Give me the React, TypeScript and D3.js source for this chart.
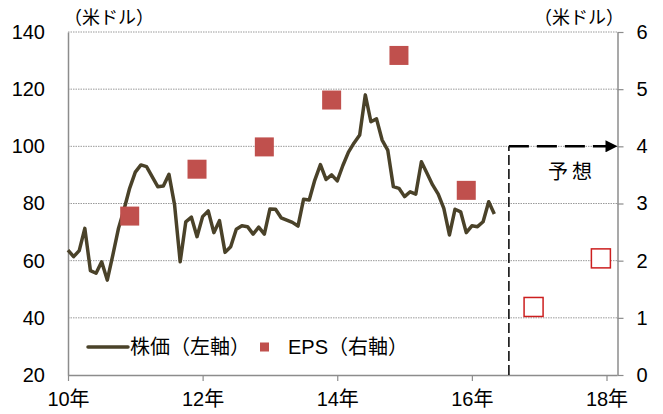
import * as d3 from "d3";
import { useRef, useEffect } from "react";

// monthly closing prices, Jan 2010 - May 2016 (left axis, USD)
const priceStart = 2010;
const prices = [
  63.7, 61.4, 63.5, 71.3, 56.5, 55.6, 59.6, 53.2, 62.0, 71.3, 78.0, 85.4,
  91.0, 93.5, 92.9, 89.4, 85.9, 86.1, 90.2, 79.5, 59.6, 73.6, 75.2, 68.4,
  75.4, 77.4, 69.8, 74.0, 62.9, 64.9, 71.0, 72.2, 71.9, 69.3, 71.7, 69.3,
  78.1, 78.0, 75.0, 74.2, 73.4, 72.1, 81.5, 81.2, 88.2, 93.6, 88.4, 90.0,
  87.9, 93.3, 98.0, 101.2, 104.0, 118.0, 108.6, 109.6, 102.2, 98.7, 85.9, 85.3,
  82.4, 84.1, 83.3, 94.6, 90.6, 86.5, 83.3, 78.3, 69.0, 78.0, 77.1, 69.8,
  72.2, 71.9, 73.6, 80.6, 76.3,
];

// annual EPS (right axis, USD); 2016-2017 are forecasts
const epsYears = [2010, 2011, 2012, 2013, 2014, 2015, 2016, 2017];
const epsValues = [2.78, 3.6, 3.99, 4.81, 5.59, 3.23, 1.19, 2.04];
const forecastFrom = 2016;

const xTicks = [2010, 2012, 2014, 2016, 2018];
const xTickLabels = ["10年", "12年", "14年", "16年", "18年"];
const leftTicks = [20, 40, 60, 80, 100, 120, 140];
const rightTicks = [0, 1, 2, 3, 4, 5, 6];

const forecastStart = 2016.55;
const forecastLevel = 4;

const FONT = "'Liberation Sans', Arial, 'Noto Sans CJK JP', sans-serif";

export default function App() {
  const ref = useRef<SVGSVGElement>(null);

  useEffect(() => {
    const svg = d3.select(ref.current);
    svg.selectAll("*").remove();

    const left = 68, right = 617.5, top = 32, bottom = 375;
    const x = d3.scaleLinear().domain([2010, 2018]).range([left, 606.5]);
    const yL = d3.scaleLinear().domain([20, 140]).range([bottom, top]);
    const yR = d3.scaleLinear().domain([0, 6]).range([bottom, top]);

    const defs = svg.append("defs");
    defs.append("marker")
      .attr("id", "arrow")
      .attr("viewBox", "0 0 10 10")
      .attr("refX", 10)
      .attr("refY", 5)
      .attr("markerWidth", 16)
      .attr("markerHeight", 12)
      .attr("markerUnits", "userSpaceOnUse")
      .attr("orient", "auto")
      .append("path")
      .attr("d", "M0,0 L10,5 L0,10 Z")
      .attr("fill", "#000");

    // gridlines
    svg.append("g")
      .selectAll("line")
      .data(leftTicks.filter(t => t > 20))
      .join("line")
      .attr("x1", left)
      .attr("x2", right)
      .attr("y1", d => yL(d))
      .attr("y2", d => yL(d))
      .attr("stroke", "#9a9a9a")
      .attr("stroke-width", 1)
      .attr("stroke-dasharray", "1.5 1");

    // left axis
    const gL = svg.append("g").attr("transform", `translate(${left},0)`)
      .call(d3.axisLeft(yL).tickValues(leftTicks).tickSize(0).tickPadding(23));
    gL.select(".domain").attr("stroke", "#8c8c8c").attr("stroke-width", 1.5);
    gL.selectAll("text").attr("font-family", FONT).attr("font-size", 20).attr("fill", "#000");

    // right axis
    const gR = svg.append("g").attr("transform", `translate(${right},0)`)
      .call(d3.axisRight(yR).tickValues(rightTicks).tickSize(6).tickSizeOuter(0).tickPadding(13)
        .tickFormat(d3.format("d")));
    gR.select(".domain").attr("stroke", "#8c8c8c").attr("stroke-width", 1.5);
    gR.selectAll(".tick line").attr("stroke", "#8c8c8c").attr("stroke-width", 1.2);
    gR.selectAll("text").attr("font-family", FONT).attr("font-size", 20).attr("fill", "#000");

    // bottom axis
    const gB = svg.append("g").attr("transform", `translate(0,${bottom})`)
      .call(d3.axisBottom(x).tickValues(xTicks).tickSize(6).tickSizeOuter(0).tickPadding(11)
        .tickFormat((d, i) => xTickLabels[i]));
    gB.select(".domain").attr("d", `M${left},0.5H${right}`).attr("stroke", "#8c8c8c").attr("stroke-width", 1.5);
    gB.selectAll(".tick line").attr("stroke", "#8c8c8c").attr("stroke-width", 1.2);
    gB.selectAll("text").attr("font-family", FONT).attr("font-size", 20).attr("fill", "#000");

    // unit labels
    svg.append("text").attr("x", 64).attr("y", 24).text("（米ドル）")
      .attr("font-family", FONT).attr("font-size", 18);
    svg.append("text").attr("x", 624).attr("y", 24).attr("text-anchor", "end").text("（米ドル）")
      .attr("font-family", FONT).attr("font-size", 18);

    // forecast marker
    svg.append("line")
      .attr("x1", x(forecastStart)).attr("x2", x(forecastStart))
      .attr("y1", bottom).attr("y2", yR(forecastLevel))
      .attr("stroke", "#000").attr("stroke-width", 1.5).attr("stroke-dasharray", "10 4");
    svg.append("line")
      .attr("x1", x(forecastStart)).attr("x2", right)
      .attr("y1", yR(forecastLevel)).attr("y2", yR(forecastLevel))
      .attr("stroke", "#000").attr("stroke-width", 2.5).attr("stroke-dasharray", "20 8")
      .attr("marker-end", "url(#arrow)");
    svg.append("text")
      .attr("x", 572).attr("y", yR(forecastLevel) + 33)
      .attr("text-anchor", "middle")
      .attr("font-family", FONT).attr("font-size", 20).attr("letter-spacing", 4)
      .text("予想");

    // price line
    svg.append("path")
      .datum(prices)
      .attr("fill", "none")
      .attr("stroke", "#4a4229")
      .attr("stroke-width", 3.5)
      .attr("stroke-linejoin", "round")
      .attr("d", d3.line<number>()
        .x((d, i) => x(priceStart + i / 12))
        .y(d => yL(d)));

    // EPS squares (December of each year)
    const s = 19;
    svg.append("g")
      .selectAll("rect")
      .data(epsYears.map((yr, i) => ({ yr, v: epsValues[i] })))
      .join("rect")
      .attr("x", d => x(d.yr + 11 / 12) - s / 2)
      .attr("y", d => yR(d.v) - s / 2)
      .attr("width", s)
      .attr("height", s)
      .attr("fill", d => d.yr >= forecastFrom ? "#fff" : "#c0504d")
      .attr("stroke", d => d.yr >= forecastFrom ? "#cc1f1f" : "none")
      .attr("stroke-width", 1.5);

    // legend
    const lg = svg.append("g").attr("transform", "translate(88,347)");
    lg.append("line").attr("x1", 0).attr("x2", 40).attr("y1", 0).attr("y2", 0)
      .attr("stroke", "#4a4229").attr("stroke-width", 3.5).attr("stroke-linecap", "round");
    lg.append("text").attr("x", 42).attr("y", 7).text("株価（左軸）")
      .attr("font-family", FONT).attr("font-size", 20);
    lg.append("rect").attr("x", 172).attr("y", -4.5).attr("width", 9).attr("height", 9).attr("fill", "#c0504d");
    lg.append("text").attr("x", 200).attr("y", 7).text("EPS（右軸）")
      .attr("font-family", FONT).attr("font-size", 20);
  }, []);

  return (
    <svg
      ref={ref}
      width={663}
      height={414}
      style={{ position: "absolute", left: 0, top: 0, background: "#fff" }}
    />
  );
}
